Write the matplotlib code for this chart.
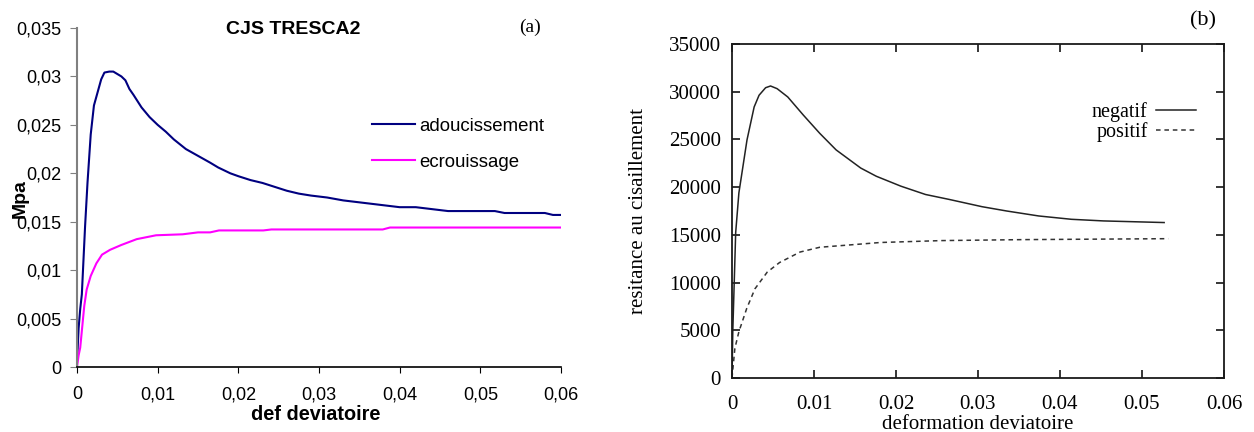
import matplotlib
matplotlib.use("Agg")
from matplotlib import pyplot as plt
from matplotlib.ticker import FuncFormatter

# (a) CJS TRESCA2
adou_x = [0, 0.0002, 0.0004, 0.0006, 0.0008, 0.0010, 0.0013, 0.0017, 0.0021, 0.0026,
          0.0030, 0.0034, 0.0040, 0.0045, 0.0055, 0.0060, 0.0065, 0.0070, 0.0080, 0.0090,
          0.0100, 0.0110, 0.0120, 0.0135, 0.0150, 0.0165, 0.0175, 0.0190, 0.0200, 0.0215,
          0.0230, 0.0245, 0.0260, 0.0275, 0.0290, 0.0310, 0.0330, 0.0360, 0.0380, 0.0400,
          0.0420, 0.0440, 0.0460, 0.0500, 0.0518, 0.0530, 0.0580, 0.0590, 0.0600]
adou_y = [0.0005, 0.004, 0.006, 0.0075, 0.011, 0.0145, 0.019, 0.024, 0.027, 0.0285,
          0.0297, 0.0304, 0.0305, 0.0305, 0.0300, 0.0296, 0.0287, 0.0281, 0.0268, 0.0258,
          0.0250, 0.0243, 0.0235, 0.0225, 0.0218, 0.0211, 0.0206, 0.0200, 0.0197, 0.0193,
          0.0190, 0.0186, 0.0182, 0.0179, 0.0177, 0.0175, 0.0172, 0.0169, 0.0167, 0.0165,
          0.0165, 0.0163, 0.0161, 0.0161, 0.0161, 0.0159, 0.0159, 0.0157, 0.0157]

ecr_x = [0, 0.0002, 0.0004, 0.0009, 0.0012, 0.0017, 0.0024, 0.0031, 0.0041, 0.0055,
         0.0074, 0.0098, 0.0131, 0.0150, 0.0165, 0.0176, 0.0231, 0.0241, 0.0379, 0.0388,
         0.0600]
ecr_y = [0, 0.0012, 0.002, 0.0063, 0.008, 0.0094, 0.0107, 0.0116, 0.0121, 0.0126,
         0.0132, 0.0136, 0.0137, 0.0139, 0.0139, 0.0141, 0.0141, 0.0142, 0.0142, 0.0144,
         0.0144]

# (b) reference curves
neg_x = [0, 0.0001, 0.00045, 0.00084, 0.00183, 0.0027, 0.0033, 0.0041, 0.0047, 0.0055,
         0.0068, 0.0087, 0.0107, 0.0127, 0.0157, 0.0176, 0.0206, 0.0236, 0.0265, 0.0305,
         0.0335, 0.0374, 0.0414, 0.0453, 0.0527]
neg_y = [0, 5000, 15250, 19400, 24950, 28400, 29630, 30420, 30600, 30320,
         29450, 27550, 25640, 23900, 22000, 21140, 20100, 19230, 18710, 17950,
         17500, 16980, 16630, 16460, 16290]

pos_x = [0, 0.00035, 0.00084, 0.0018, 0.0028, 0.0043, 0.0058, 0.0083, 0.0107, 0.0137,
         0.0181, 0.0256, 0.0354, 0.0532]
pos_y = [0, 3100, 4850, 7300, 9350, 11100, 12100, 13200, 13700, 13900,
         14200, 14400, 14500, 14600]

fig = plt.figure(figsize=(12.54, 4.32), dpi=100)

# ---- left panel (excel style)
sans = "Liberation Sans"
ax1 = fig.add_axes([77 / 1254, 1 - 367 / 432, 484 / 1254, 339 / 432])
ax1.plot(adou_x, adou_y, color="#000080", lw=1.5, label="adoucissement")
ax1.plot(ecr_x, ecr_y, color="#FF00FF", lw=1.5, label="ecrouissage")
ax1.set_xlim(0, 0.06)
ax1.set_ylim(0, 0.035)
ax1.set_xticks([0, 0.01, 0.02, 0.03, 0.04, 0.05, 0.06])
ax1.set_yticks([0, 0.005, 0.01, 0.015, 0.02, 0.025, 0.03, 0.035])
comma = FuncFormatter(lambda v, p: ("%g" % round(v, 4)).replace(".", ","))
ax1.xaxis.set_major_formatter(comma)
ax1.yaxis.set_major_formatter(comma)
for s in ["top", "right"]:
    ax1.spines[s].set_visible(False)
ax1.spines["left"].set_color("#808080")
ax1.spines["left"].set_linewidth(1.5)
ax1.spines["bottom"].set_linewidth(1.2)
ax1.tick_params(axis="y", direction="out", length=5, color="#808080", pad=6)
ax1.tick_params(axis="x", direction="out", length=4, pad=10)
for lab in ax1.get_xticklabels() + ax1.get_yticklabels():
    lab.set_fontfamily(sans)
    lab.set_fontsize(13)
ax1.legend(loc="upper left", bbox_to_anchor=(0.575, 0.784), frameon=False,
           handlelength=2.3, handletextpad=0.25, labelspacing=1.0,
           prop={"family": sans, "size": 13.4})
fig.text(293 / 1254, 1 - 30 / 432, "CJS TRESCA2", family=sans, weight="bold",
         size=14, ha="center", va="center")
fig.text(530 / 1254, 1 - 27 / 432, "(a)", family="Liberation Serif", size=14,
         ha="center", va="center")
fig.text(20 / 1254, 1 - 199 / 432, "Mpa", family=sans, weight="bold", size=14,
         rotation=90, ha="center", va="center")
fig.text(316 / 1254, 1 - 415 / 432, "def deviatoire", family=sans, weight="bold",
         size=14.3, ha="center", va="center")

# ---- right panel (gnuplot style)
serif = "Liberation Serif"
ax2 = fig.add_axes([732 / 1254, 1 - 378 / 432, 492 / 1254, 334 / 432])
ax2.plot(neg_x, neg_y, color="#222222", lw=1.1, label="negatif")
ax2.plot(pos_x, pos_y, color="#333333", lw=1.1, dashes=(3, 2.5), label="positif")
ax2.set_xlim(0, 0.06)
ax2.set_ylim(0, 35000)
ax2.set_xticks([0, 0.01, 0.02, 0.03, 0.04, 0.05, 0.06])
ax2.set_xticklabels(["0", "0.01", "0.02", "0.03", "0.04", "0.05", "0.06"])
ax2.set_yticks(range(0, 35001, 5000))
for s in ax2.spines.values():
    s.set_linewidth(1.3)
    s.set_color("#1a1a1a")
ax2.tick_params(direction="in", length=6, width=1.1, top=True, right=True)
ax2.tick_params(axis="x", pad=12)
ax2.tick_params(axis="y", pad=8)
for lab in ax2.get_xticklabels() + ax2.get_yticklabels():
    lab.set_fontfamily(serif)
    lab.set_fontsize(15)
ax2.set_xlabel("deformation deviatoire", family=serif, size=15, labelpad=1)
ax2.set_ylabel("resitance au cisaillement", family=serif, size=15, labelpad=15)
ax2.legend(loc="upper right", bbox_to_anchor=(0.98, 0.88), frameon=False,
           markerfirst=False, handlelength=2.0, handletextpad=0.4, labelspacing=0.0,
           prop={"family": serif, "size": 14.5})
fig.text(1203 / 1254, 1 - 21 / 432, "(b)", family=serif, size=16,
         ha="center", va="center")

fig.savefig("out.png", dpi=100)
